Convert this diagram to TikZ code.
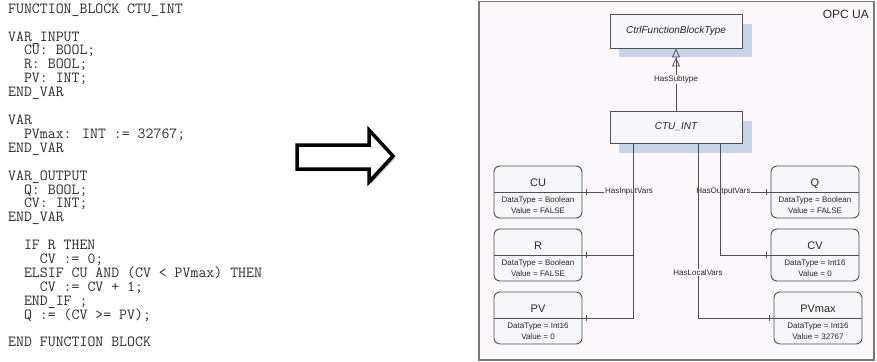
\documentclass[tikz,border=0pt]{standalone}
\usepackage{fontspec}
\setmainfont{Liberation Sans}
\usetikzlibrary{arrows.meta}
\definecolor{framebg}{RGB}{252,247,250}
\definecolor{framebd}{RGB}{120,120,120}
\definecolor{boxbg}{RGB}{246,246,251}
\definecolor{boxbd}{RGB}{80,80,80}
\definecolor{shadowblue}{RGB}{200,212,232}
\definecolor{txt}{RGB}{40,40,40}
\definecolor{codetxt}{RGB}{45,45,45}
\newcommand{\VarBox}[6]{%
  \node[varbox] (#1) at (#2,#3) {};
  \draw[boxbd, line width=0.9pt] (#1.west) -- (#1.east);
  \path (#1.center) ++(0,-6) node[vtitle] (#1-t) {#4};
  \path (#1.center) ++(0,10.5) node[vdetail] (#1-d) {DataType = #5};
  \path (#1.center) ++(0,21.5) node[vdetail] (#1-v) {Value = #6};
}
\begin{document}
\begin{tikzpicture}[x=1pt,y=-1pt,
  code/.style={anchor=base west, inner sep=0, font=\ttfamily\fontsize{15.4}{15}\selectfont, text=codetxt},
  typebox/.style={draw=boxbd, fill=boxbg, line width=0.8pt, minimum width=132pt, inner sep=0, font=\fontsize{10}{12}\selectfont\itshape, text=txt},
  varbox/.style={draw=boxbd, fill=boxbg, line width=0.9pt, rounded corners=6pt, minimum width=88pt, minimum height=52pt, inner sep=0},
  vtitle/.style={anchor=base, inner sep=0, font=\fontsize{11}{13}\selectfont, text=txt},
  vdetail/.style={anchor=base, inner sep=0, font=\fontsize{8}{10}\selectfont, text=txt},
  conn/.style={draw=boxbd, line width=0.8pt},
  lbl/.style={fill=framebg, inner sep=0.8pt, font=\fontsize{8}{10}\selectfont, text=txt},
  bigarrow/.style={line width=3.5pt, line join=miter, draw=black, fill=white},
]
\useasboundingbox (0,0) rectangle (877,361);

% ---- code listing
\foreach \k/\t in {
  0/{FUNCTION\_BLOCK CTU\_INT},
  2/{VAR\_INPUT},
  3/{\hphantom{XX}CU: BOOL;},
  4/{\hphantom{XX}R: BOOL;},
  5/{\hphantom{XX}PV: INT;},
  6/{END\_VAR},
  8/{VAR},
  9/{\hphantom{XX}PVmax: INT := 32767;},
  10/{END\_VAR},
  12/{VAR\_OUTPUT},
  13/{\hphantom{XX}Q: BOOL;},
  14/{\hphantom{XX}CV: INT;},
  15/{END\_VAR},
  17/{\hphantom{XX}IF R THEN},
  18/{\hphantom{XXXX}CV := 0;},
  19/{\hphantom{XX}ELSIF CU AND (CV < PVmax) THEN},
  20/{\hphantom{XXXX}CV := CV + 1;},
  21/{\hphantom{XX}END\_IF ;},
  22/{\hphantom{XX}Q := (CV >= PV);},
  24/{END FUNCTION BLOCK}}
  \node[code] (c\k) at (8,13.3+13.9*\k) {\t};

% ---- big arrow
\fill[black!45, opacity=0.7] (299,147) -- (371,147) -- (371,132) -- (395,158) -- (371,184) -- (371,171) -- (299,171) -- cycle;
\draw[bigarrow] (297,145) -- (369,145) -- (369,130) -- (393,156) -- (369,182) -- (369,169) -- (297,169) -- cycle;

% ---- OPC UA frame
\node[draw=framebd, fill=framebg, line width=1.5pt, minimum width=395pt, minimum height=358pt, inner sep=0, anchor=north west] (frame) at (478,1) {};
\node[anchor=base east, inner sep=0, font=\fontsize{12}{14}\selectfont, text=txt] (opc) at (869,18.5) {OPC UA};

% type boxes with shadows
\fill[shadowblue] (619,24) rectangle (752,57);
\fill[shadowblue] (619,121) rectangle (752,153);
\node[typebox, minimum height=34pt] (ctrl) at (676,31) {CtrlFunctionBlockType};
\node[typebox, minimum height=32pt] (ctu) at (676,127) {CTU\_INT};

\draw[conn, -{Triangle[open,length=9pt,width=8pt] Triangle[open,length=9pt,width=8pt]}]
  (ctu.north) -- node[lbl] (subl) {HasSubtype} (ctrl.south);

% variable boxes
\VarBox{cu}{538}{192}{CU}{Boolean}{FALSE}
\VarBox{r}{538}{255}{R}{Boolean}{FALSE}
\VarBox{pv}{538}{318}{PV}{Int16}{0}
\VarBox{q}{815}{192}{Q}{Boolean}{FALSE}
\VarBox{cv}{815}{255}{CV}{Int16}{0}
\VarBox{pvmax}{818}{318}{PVmax}{Int16}{32767}

\coordinate (inx) at (633,0);
\coordinate (locx) at (698,0);
\coordinate (outx) at (720,0);

% horizontal connectors with labels
\draw[conn] (inx |- cu.east) -- (cu.east) node[lbl, at start, xshift=-4pt] (inl) {HasInputVars};
\draw[conn] (inx |- r.east) -- (r.east);
\draw[conn] (outx |- q.west) -- (q.west) node[lbl, at start, xshift=3.5pt] (outl) {HasOutputVars};

% vertical connectors
\draw[conn] (ctu.south -| inx) |- (pv.east);
\draw[conn] (ctu.south -| outx) |- (cv.west);
\draw[conn] (ctu.south -| locx) |- node[lbl, pos=0.37] (locl) {HasLocalVars} (pvmax.west);

% ticks near box edges
\foreach \b in {cu,r,pv}
  \draw[conn] ([xshift=4pt]\b.east) ++(0,-3) -- ++(0,6);
\foreach \b in {q,cv,pvmax}
  \draw[conn] ([xshift=-4pt]\b.west) ++(0,-3) -- ++(0,6);
\end{tikzpicture}
\end{document}
